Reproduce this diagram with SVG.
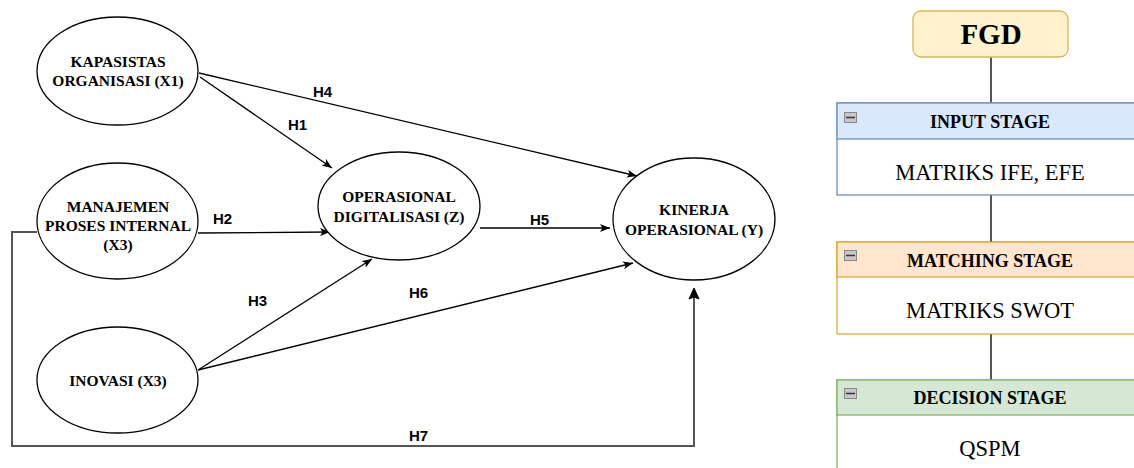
<svg xmlns="http://www.w3.org/2000/svg" width="1134" height="468" viewBox="0 0 1134 468">
<style>
.bg{fill:#fff}
.ell{fill:#fff;stroke:#000;stroke-width:1.3}
.et{font-family:"Liberation Serif",serif;font-weight:bold;font-size:15.5px;fill:#000;text-anchor:middle}
.ht{font-family:"Liberation Sans",sans-serif;font-weight:bold;font-size:15px;fill:#000}
.ln{fill:none;stroke:#000;stroke-width:1.3}
.ln7{fill:none;stroke:#555;stroke-width:2}
.cl{stroke:#555;stroke-width:2}
.hd{font-family:"Liberation Serif",serif;font-weight:bold;font-size:18px;fill:#000;text-anchor:middle}
.bd{font-family:"Liberation Serif",serif;font-size:22.5px;fill:#000;text-anchor:middle}
.mi{fill:#c8c8c8;stroke:#888;stroke-width:1}
</style>
<defs>
<marker id="arr" markerWidth="10" markerHeight="8" refX="10" refY="4" orient="auto" markerUnits="userSpaceOnUse">
<path d="M0,0 L10,4 L0,8 L2.5,4 Z" fill="#000"/>
</marker>
</defs>
<rect class="bg" x="0" y="0" width="1134" height="468"/>
<g id="connectors">
<line class="ln" x1="200" y1="77" x2="332" y2="168" marker-end="url(#arr)"/>
<line class="ln" x1="199" y1="73" x2="637" y2="176" marker-end="url(#arr)"/>
<line class="ln" x1="198" y1="233" x2="330" y2="232" marker-end="url(#arr)"/>
<line class="ln" x1="480" y1="228" x2="610" y2="228" marker-end="url(#arr)"/>
<line class="ln" x1="198" y1="370" x2="372" y2="259" marker-end="url(#arr)"/>
<line class="ln" x1="198" y1="370" x2="633" y2="263" marker-end="url(#arr)"/>
<polyline class="ln7" points="37,232 12,232 12,446 694,446 694,297"/>
<path d="M694,288 L699,299 L694,297 L689,299 Z" fill="#000" stroke="#000" stroke-width="1"/>
<text class="ht" x="313" y="97">H4</text>
<text class="ht" x="288" y="130">H1</text>
<text class="ht" x="213" y="224">H2</text>
<text class="ht" x="248" y="306">H3</text>
<text class="ht" x="530" y="225">H5</text>
<text class="ht" x="409" y="298">H6</text>
<text class="ht" x="409" y="441">H7</text>
<line class="cl" x1="991" y1="57" x2="991" y2="103"/>
<line class="cl" x1="991" y1="195" x2="991" y2="242"/>
<line class="cl" x1="991" y1="334" x2="991" y2="380"/>
</g>
<g id="x1">
<ellipse class="ell" cx="117.5" cy="71" rx="80.5" ry="54"/>
<text class="et" x="118" y="67">KAPASISTAS</text>
<text class="et" x="118" y="86">ORGANISASI (X1)</text>
</g>
<g id="x2">
<ellipse class="ell" cx="117.5" cy="221" rx="80.5" ry="58"/>
<text class="et" x="118" y="212">MANAJEMEN</text>
<text class="et" x="118" y="231">PROSES INTERNAL</text>
<text class="et" x="118" y="250">(X3)</text>
</g>
<g id="x3">
<ellipse class="ell" cx="117.5" cy="380" rx="80.5" ry="53"/>
<text class="et" x="118" y="386">INOVASI (X3)</text>
</g>
<g id="z">
<ellipse class="ell" cx="399" cy="206" rx="81" ry="54"/>
<text class="et" x="399" y="202">OPERASIONAL</text>
<text class="et" x="399" y="222">DIGITALISASI (Z)</text>
</g>
<g id="y">
<ellipse class="ell" cx="694" cy="219" rx="81" ry="61"/>
<text class="et" x="694" y="215">KINERJA</text>
<text class="et" x="694" y="235">OPERASIONAL (Y)</text>
</g>
<g id="fgd">
<rect x="913" y="11" width="155" height="46" rx="8" fill="#fff2cc" stroke="#d6b656" stroke-width="1.3"/>
<text x="991" y="44" font-family="Liberation Serif, serif" font-weight="bold" font-size="29" text-anchor="middle" fill="#000">FGD</text>
</g>
<g id="input">
<rect x="837" y="103" width="310" height="92" fill="#fff" stroke="#6c8ebf" stroke-width="1.3"/>
<rect x="837" y="103" width="310" height="36" fill="#dae8fc" stroke="#6c8ebf" stroke-width="1.3"/>
<rect class="mi" x="844.5" y="112.5" width="12" height="10"/>
<line x1="846" y1="117.5" x2="855" y2="117.5" stroke="#333" stroke-width="1.5"/>
<text class="hd" x="990" y="128">INPUT STAGE</text>
<text class="bd" x="990" y="180">MATRIKS IFE, EFE</text>
</g>
<g id="matching">
<rect x="837" y="242" width="310" height="92" fill="#fff" stroke="#d79b00" stroke-opacity="0.8" stroke-width="1.3"/>
<rect x="837" y="242" width="310" height="35" fill="#ffe6cc" stroke="#d79b00" stroke-opacity="0.8" stroke-width="1.3"/>
<rect class="mi" x="844.5" y="250.5" width="12" height="10"/>
<line x1="846" y1="255.5" x2="855" y2="255.5" stroke="#333" stroke-width="1.5"/>
<text class="hd" x="990" y="267">MATCHING STAGE</text>
<text class="bd" x="990" y="318">MATRIKS SWOT</text>
</g>
<g id="decision">
<rect x="837" y="380" width="310" height="100" fill="#fff" stroke="#82b366" stroke-width="1.3"/>
<rect x="837" y="380" width="310" height="35" fill="#d5e8d4" stroke="#82b366" stroke-width="1.3"/>
<rect class="mi" x="844.5" y="388.5" width="12" height="10"/>
<line x1="846" y1="393.5" x2="855" y2="393.5" stroke="#333" stroke-width="1.5"/>
<text class="hd" x="990" y="404">DECISION STAGE</text>
<text class="bd" x="990" y="456">QSPM</text>
</g>
</svg>
